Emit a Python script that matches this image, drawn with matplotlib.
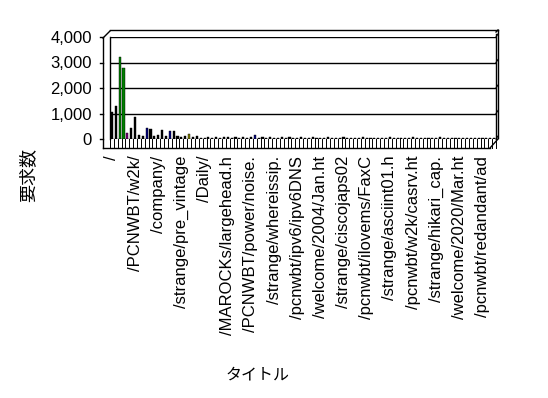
import matplotlib
matplotlib.use("Agg")
import matplotlib.pyplot as plt
from matplotlib import transforms
from matplotlib.lines import Line2D

# ---- data ----
values = [1050, 1300, 3200, 2800, 250, 450, 850, 150, 100, 450,
          400, 100, 150, 350, 100, 300, 300, 100, 80, 120,
          200, 60, 100, 50, 40, 70, 50, 90, 40, 60,
          80, 50, 60, 40, 70, 40, 60, 150, 50, 60,
          40, 70, 50, 40, 60, 50, 80, 40, 50, 60,
          40, 50, 60, 40, 50, 40, 60, 50, 40, 50,
          60, 40, 50, 40, 50, 60, 40, 50, 40, 50,
          40, 50, 60, 40, 50, 40, 50, 40, 60, 40,
          50, 40, 50, 40, 50, 60, 40, 50, 40, 50,
          40, 50, 40, 50, 40, 50, 40, 50, 40, 50]
bar_colors = {2: "#008000", 3: "#008000", 4: "#800080", 9: "#000080",
              15: "#000080", 20: "#808000", 37: "#000080"}
tick_positions = list(range(0, 100, 6))
tick_labels = ["/", "/PCNWBT/w2k/", "/company/", "/strange/pre_vintage", "/Daily/",
               "/MAROCKs/largehead.h", "/PCNWBT/power/noise.", "/strange/whereissip.",
               "/pcnwbt/ipv6/ipv6DNS", "/welcome/2004/Jan.ht", "/strange/ciscojaps02",
               "/pcnwbt/ilovems/FaxC", "/strange/asciint01.h", "/pcnwbt/w2k/casrv.ht",
               "/strange/hikari_cap.", "/welcome/2020/Mar.ht", "/pcnwbt/redandant/ad"]
y_ticks = [0, 1000, 2000, 3000, 4000]
y_label = "要求数"
x_label = "タイトル"

plt.rcParams["font.family"] = ["Liberation Sans", "DejaVu Sans"]

W, H = 548, 398
fig = plt.figure(figsize=(W / 100, H / 100), dpi=100)

def fx(x):
    return x / W

def fy(y):
    return 1 - y / H

# back wall axes
L, R, T, B = 110, 496, 37, 139
ax = fig.add_axes([fx(L), fy(B), fx(R) - fx(L), fy(T) - fy(B)])
N = len(values)
cols = [bar_colors.get(i, "#000000") for i in range(N)]
ax.bar(range(N), values, width=0.55, color=cols, edgecolor="black", linewidth=0.3, zorder=3)
ax.set_xlim(-0.5, N - 0.5)
ax.set_ylim(0, 4000)
for v in y_ticks:
    ax.axhline(v, color="black", linewidth=1, zorder=1)
for s in ax.spines.values():
    s.set_visible(False)
ax.set_yticks(y_ticks)
ax.set_yticklabels([f"{v:,}" for v in y_ticks], fontsize=12)
ax.tick_params(axis="y", length=0, pad=13)
ax.set_xticks(tick_positions)
ax.set_xticklabels(tick_labels, rotation=90, fontsize=12, ha="center", va="top")
ax.tick_params(axis="x", length=0, pad=12)

# 3D frame lines (figure pixel coordinates)
def line(xs, ys, lw=1):
    fig.add_artist(Line2D([fx(x) for x in xs], [fy(y) for y in ys],
                          color="black", linewidth=lw))

line([L, L], [T, B])                      # inner left of back wall
line([103, 103], [38, 148])               # front left edge
line([103, 110], [38, 31])                # top-left diagonal
line([110, 498], [30, 30])                # top outer edge
line([498, 498], [30, 138])               # right outer edge
line([496, 496], [34, 139])               # right inner edge
line([496, 498], [32, 30])
for v in y_ticks:
    yy = B - (B - T) * v / 4000
    line([R, 498], [yy, yy - 3], lw=0.8)
    line([100, 103], [yy, yy])            # y tick marks
line([103, 490], [148, 148])              # front floor edge
line([490, 498], [148, 139])              # floor right diagonal

# floor ticks between categories
trans = transforms.blended_transform_factory(ax.transData, fig.transFigure)
for k in range(N + 1):
    xk = k - 0.5
    fig.add_artist(Line2D([xk, xk], [fy(139), fy(148)], transform=trans,
                          color="black", linewidth=0.7))

fig.text(fx(28), fy(175), y_label, rotation=90, ha="center", va="center",
         fontsize=13, family=["Noto Sans CJK JP", "DejaVu Sans"])
fig.text(fx(258), fy(375), x_label, ha="center", va="center",
         fontsize=11.5, family=["Noto Sans CJK JP", "DejaVu Sans"])

fig.savefig("out.png", dpi=100)
